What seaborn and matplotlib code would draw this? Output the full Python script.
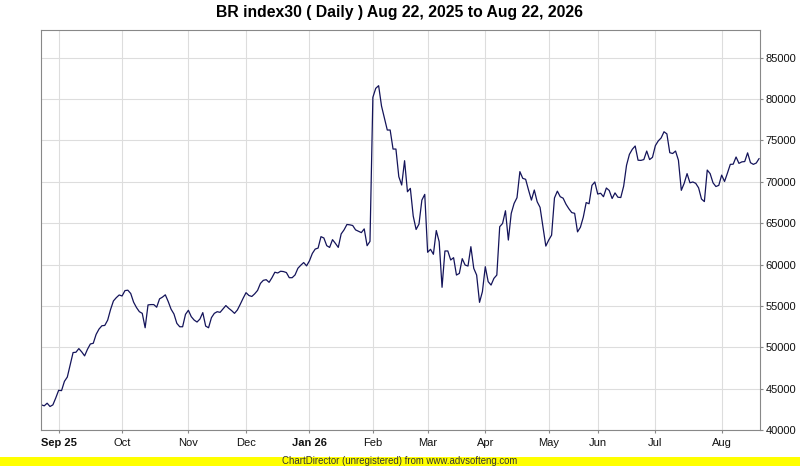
import numpy as np
import pandas as pd
import matplotlib
matplotlib.use('Agg')
import matplotlib.pyplot as plt
from matplotlib.patches import Rectangle
import seaborn as sns

# ─── DATA ────────────────────────────────────────────
TITLE = 'BR index30 ( Daily ) Aug 22, 2025 to Aug 22, 2026'
FOOTER = 'ChartDirector (unregistered) from www.advsofteng.com'

# trading days per month segment (Aug 25 .. Aug 26)
month_labels = ['', 'Sep 25', 'Oct', 'Nov', 'Dec', 'Jan 26', 'Feb', 'Mar',
                'Apr', 'May', 'Jun', 'Jul', 'Aug']
month_days = [6, 22, 23, 20, 22, 22, 19, 20, 22, 17, 20, 23, 14]
bold_labels = ['Sep 25', 'Jan 26']

close = [
    43040, 42920, 43240, 42840, 43040, 43880, 44800, 44760, 45880, 46400,
    47880, 49360, 49400, 49840, 49440, 48960, 49760, 50400, 50480, 51560,
    52200, 52600, 52640, 53280, 54560, 55600, 56000, 56320, 56200, 56850,
    56900, 56500, 55450, 54800, 54300, 54100, 52360, 55120, 55160, 55160,
    54840, 55850, 56060, 56340, 55530, 54600, 54020, 52890, 52480, 52480,
    53980, 54470, 53700, 53290, 53050, 53410, 54190, 52560, 52360, 53580,
    54100, 54300, 54220, 54630, 55040, 54710, 54430, 54100, 54510, 55200,
    55930, 56600, 56260, 56140, 56460, 56870, 57720, 58090, 58170, 57850,
    58410, 59070, 58980, 59190, 59150, 59030, 58410, 58410, 58740, 59550,
    59920, 60240, 59840, 60450, 61340, 61870, 61990, 63370, 63210, 62280,
    62070, 63010, 62560, 62070, 63700, 64190, 64840, 64800, 64720, 64190,
    64020, 63860, 64310, 62280, 62800, 80210, 81300, 81620, 79160, 77700,
    76260, 76260, 73960, 73960, 70620, 69610, 72550, 68800, 69210, 65860,
    64240, 64890, 67790, 68480, 61480, 61840, 61240, 64110, 62760, 57250,
    61640, 61640, 60550, 60830, 58730, 58930, 60710, 59940, 59820, 62160,
    59540, 58730, 55430, 56720, 59740, 57930, 57520, 58330, 58730, 64570,
    64970, 66500, 62960, 66180, 67390, 68080, 71230, 70420, 70300, 69010,
    67790, 69010, 67590, 66910, 64570, 62230, 62960, 63550, 68050, 68870,
    68200, 68020, 67290, 66740, 66280, 66190, 63950, 64510, 65730, 67490,
    67350, 69570, 69980, 68520, 68620, 68200, 69250, 68950, 67980, 68660,
    68140, 68100, 69470, 72000, 73320, 73930, 74330, 72610, 72590, 72690,
    73720, 72690, 72960, 74370, 74940, 75300, 76050, 75790, 73520, 73420,
    73720, 72610, 68970, 69820, 70990, 69880, 69980, 69820, 69270, 67920,
    67610, 71420, 70990, 69880, 69430, 69570, 70810, 70040, 71050, 72110,
    72130, 73000, 72230, 72410, 72450, 73500, 72310, 72110, 72270, 72820,
]

y_ticks = list(range(40000, 85001, 5000))

# ─── STYLE ────────────────────────────────────────────
sns.set_style('white')
plt.rcParams.update({
    'font.family': ['Liberation Sans', 'DejaVu Sans'],
    'axes.edgecolor': '#888888',
    'axes.linewidth': 0.8,
})
LINE_COLOR = '#14145a'
GRID_COLOR = '#dddddd'

df = pd.DataFrame({'day': np.arange(len(close)), 'close': close})
tick_pos = np.cumsum([0] + month_days[:-1])

fig = plt.figure(figsize=(8, 4.66), dpi=100)
ax = fig.add_axes([40.5 / 800, 36 / 466, 719.5 / 800, 400 / 466])

sns.lineplot(data=df, x='day', y='close', ax=ax, color=LINE_COLOR,
             linewidth=0.9, estimator=None)

ax.set_xlim(-0.3, 249.3)
ax.set_ylim(40000, 88350)

# x axis: first trading day of each month
ax.set_xticks(tick_pos[1:])
ax.set_xticklabels(month_labels[1:])
for lbl in ax.get_xticklabels():
    if lbl.get_text() in bold_labels:
        lbl.set_fontweight('bold')

# y axis on the right
ax.yaxis.tick_right()
ax.set_yticks(y_ticks)
ax.set_yticklabels([str(v) for v in y_ticks])

ax.tick_params(axis='both', labelsize=8, colors='#888888', labelcolor='#111111',
               length=2.5, width=0.8, direction='out')
ax.tick_params(axis='x', bottom=True, top=False, pad=3)
ax.tick_params(axis='y', left=False, right=True, labelright=True, pad=1.5)

ax.grid(True, color=GRID_COLOR, linewidth=0.8)
ax.set_axisbelow(True)
ax.set_xlabel('')
ax.set_ylabel('')
for side in ['top', 'right', 'left', 'bottom']:
    ax.spines[side].set_visible(True)
    ax.spines[side].set_color('#888888')

fig.text(0.5, 1 - 12 / 466, TITLE, ha='center', va='center',
         fontsize=11.3, fontweight='bold', color='#000000')

# footer band
fig.add_artist(Rectangle((0, 0), 1, 9.5 / 466, transform=fig.transFigure,
                         facecolor='#ffff00', edgecolor='none'))
fig.text(0.5, 4.8 / 466, FOOTER, ha='center', va='center',
         fontsize=6.9, color='#333333')

fig.savefig('out.png', dpi=100)
